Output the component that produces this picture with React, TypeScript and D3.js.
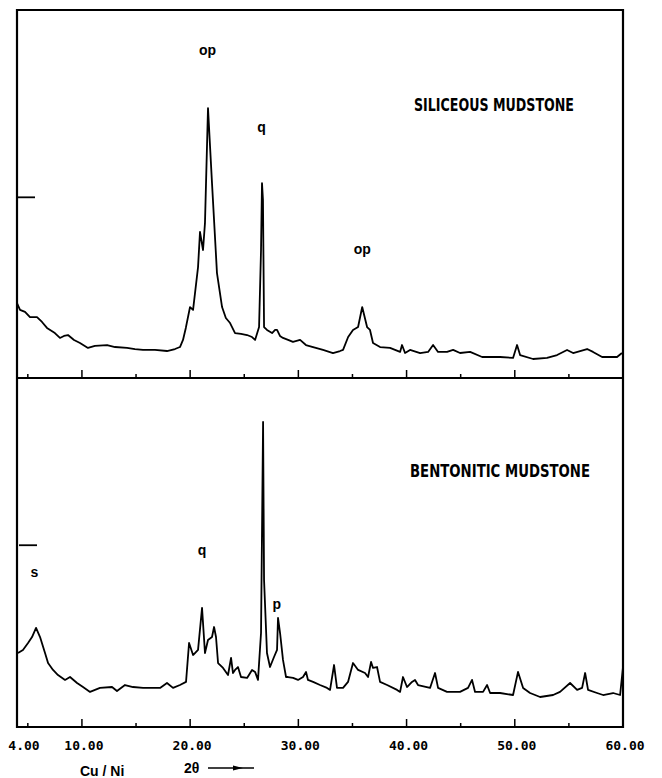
import React from "react";
import * as d3 from "d3";

// Siliceous mudstone (top trace): 2θ (deg) and intensity (arbitrary counts)
const siliceousTheta = [4.0, 4.28, 4.74, 5.2, 5.85, 6.31, 6.77, 7.5, 7.97, 8.34, 8.71, 9.27, 9.82, 10.56, 11.2, 12.32, 13.06, 14.17, 14.9, 15.64, 16.75, 17.86, 18.6, 19.06, 19.34, 19.6, 19.99, 20.27, 20.73, 20.91, 21.19, 21.37, 21.65, 22.02, 22.48, 22.95, 23.3, 23.69, 24.15, 24.7, 25.26, 25.72, 26.0, 26.37, 26.55, 26.64, 26.73, 26.83, 27.1, 27.57, 27.85, 28.03, 28.3, 28.58, 29.05, 29.5, 30.16, 30.7, 31.36, 32.28, 33.2, 33.85, 34.13, 34.6, 35.05, 35.52, 35.9, 36.35, 36.62, 36.9, 37.55, 38.47, 39.4, 39.58, 39.86, 40.32, 41.25, 41.99, 42.45, 42.91, 43.74, 44.3, 44.94, 45.87, 46.98, 48.64, 49.84, 50.21, 50.49, 51.69, 52.98, 53.91, 54.83, 55.39, 56.68, 57.23, 58.07, 59.45, 59.9];
const siliceousCounts = [407, 369, 358, 330, 330, 303, 270, 242, 215, 226, 231, 204, 187, 160, 171, 176, 165, 160, 154, 149, 149, 143, 154, 165, 204, 270, 385, 369, 605, 798, 699, 847, 1480, 1067, 572, 385, 325, 297, 242, 237, 231, 220, 204, 275, 699, 1067, 974, 275, 259, 242, 259, 259, 226, 215, 204, 193, 204, 176, 165, 149, 132, 143, 149, 220, 259, 275, 385, 275, 259, 187, 165, 160, 138, 176, 132, 149, 132, 138, 176, 138, 138, 149, 132, 138, 110, 110, 105, 176, 121, 99, 105, 121, 149, 132, 154, 138, 110, 110, 132];

// Bentonitic mudstone (bottom trace)
const bentoniticTheta = [4.09, 4.55, 5.02, 5.39, 5.76, 6.13, 6.59, 6.87, 7.33, 7.79, 8.44, 8.9, 9.55, 10.1, 10.75, 11.67, 12.78, 13.24, 13.98, 14.72, 15.65, 17.22, 17.86, 18.42, 19.06, 19.62, 19.9, 20.27, 20.73, 21.1, 21.37, 21.65, 22.02, 22.21, 22.39, 22.58, 23.04, 23.5, 23.78, 23.96, 24.15, 24.42, 24.7, 25.26, 25.72, 26.0, 26.27, 26.55, 26.74, 26.83, 27.1, 27.38, 27.75, 28.03, 28.12, 28.31, 28.58, 28.86, 29.05, 29.51, 29.97, 30.43, 30.71, 30.89, 31.36, 32.0, 32.65, 32.93, 33.3, 33.57, 34.13, 34.59, 35.05, 35.52, 36.16, 36.44, 36.72, 36.9, 37.27, 37.55, 38.2, 39.12, 39.4, 39.67, 40.04, 40.5, 40.78, 41.06, 42.17, 42.63, 42.91, 43.74, 44.94, 45.68, 46.05, 46.33, 47.07, 47.44, 47.72, 48.64, 49.84, 50.3, 50.77, 51.41, 52.34, 53.54, 54.18, 55.11, 55.76, 56.22, 56.5, 56.77, 57.6, 58.16, 59.08, 59.73, 60.0];
const bentoniticCounts = [407, 424, 462, 495, 545, 495, 407, 352, 314, 286, 259, 275, 242, 220, 193, 215, 220, 198, 231, 220, 215, 215, 242, 215, 231, 248, 462, 396, 424, 655, 407, 479, 495, 550, 495, 352, 325, 286, 380, 297, 314, 330, 275, 270, 314, 303, 259, 517, 1678, 809, 407, 330, 385, 424, 600, 517, 369, 275, 275, 270, 259, 275, 303, 259, 248, 231, 215, 204, 341, 215, 215, 248, 352, 314, 297, 275, 358, 325, 330, 248, 231, 204, 193, 275, 220, 248, 259, 231, 215, 297, 215, 193, 193, 215, 259, 193, 193, 231, 187, 187, 176, 303, 215, 187, 165, 176, 193, 242, 204, 215, 297, 204, 187, 176, 187, 176, 330];

const xTickValues = [5, 10, 15, 20, 25, 30, 35, 40, 45, 50, 55];
const xTickLabels = ["4.00", "10.00", "20.00", "30.00", "40.00", "50.00", "60.00"];
const xLabelValues = [4, 10, 20, 30, 40, 50, 60];
const scaleMarkValue = 1000;

const peakLabelsTop = [
  { text: "op", theta: 21.6, count: 1775 },
  { text: "q", theta: 26.6, count: 1350 },
  { text: "op", theta: 35.9, count: 675 },
];
const peakLabelsBottom = [
  { text: "s", theta: 5.6, count: 825 },
  { text: "q", theta: 21.1, count: 945 },
  { text: "p", theta: 28.0, count: 650 },
];

export default function App() {
  const W = 662;
  const H = 778;
  const left = 17;
  const right = 623;
  const topY = 10;
  const midY = 378;
  const botY = 727;

  const x = d3.scaleLinear().domain([4, 60]).range([left, right]);
  const yTop = d3.scaleLinear().domain([0, 2020]).range([midY - 1, topY]);
  const yBot = d3.scaleLinear().domain([0, 1920]).range([botY, midY]);

  const lineTop = d3
    .line<number>()
    .x((_, i) => x(siliceousTheta[i]))
    .y((d) => yTop(d));
  const lineBot = d3
    .line<number>()
    .x((_, i) => x(bentoniticTheta[i]))
    .y((d) => yBot(d));

  const plotFont = "'DejaVu Sans Mono', monospace";
  const labelFont = "'Liberation Sans', Arial, sans-serif";
  const titleFont = "'DejaVu Sans Condensed', 'DejaVu Sans', sans-serif";

  const ticks = (baseY: number) =>
    xTickValues.map((v) => (
      <line
        key={v}
        x1={x(v)}
        x2={x(v)}
        y1={baseY}
        y2={baseY - (v % 10 === 0 ? 8 : 4)}
        stroke="#000"
        strokeWidth={1.5}
      />
    ));

  return (
    <svg
      width={W}
      height={H}
      style={{ position: "absolute", left: 0, top: 0, background: "#fff" }}
    >
      <rect x={0} y={0} width={W} height={H} fill="#fff" />
      {/* frame */}
      <path
        d={`M${left},${botY} L${left},${topY} L${right},${topY} L${right},${botY} Z`}
        fill="none"
        stroke="#000"
        strokeWidth={2.2}
      />
      <line x1={left} x2={right} y1={midY} y2={midY} stroke="#000" strokeWidth={2.2} />
      {ticks(midY)}
      {ticks(botY)}
      {/* intensity scale marks */}
      <line x1={left} x2={left + 18} y1={yTop(scaleMarkValue) + 2} y2={yTop(scaleMarkValue) + 2} stroke="#000" strokeWidth={1.8} />
      <line x1={left + 2} x2={left + 20} y1={yBot(scaleMarkValue)} y2={yBot(scaleMarkValue)} stroke="#000" strokeWidth={1.8} />

      {/* traces */}
      <path d={lineTop(siliceousCounts) || ""} fill="none" stroke="#000" strokeWidth={1.8} strokeLinejoin="round" />
      <path d={lineBot(bentoniticCounts) || ""} fill="none" stroke="#000" strokeWidth={1.8} strokeLinejoin="round" />

      {/* peak labels */}
      {peakLabelsTop.map((p, i) => (
        <text key={"t" + i} x={x(p.theta)} y={yTop(p.count)} textAnchor="middle" fontFamily={labelFont} fontWeight="bold" fontSize={14}>
          {p.text}
        </text>
      ))}
      {peakLabelsBottom.map((p, i) => (
        <text key={"b" + i} x={x(p.theta)} y={yBot(p.count)} textAnchor="middle" fontFamily={labelFont} fontWeight="bold" fontSize={14}>
          {p.text}
        </text>
      ))}

      {/* titles */}
      <text x={414} y={111} fontFamily={titleFont} fontWeight="bold" fontSize={17} textLength={160} lengthAdjust="spacingAndGlyphs">
        SILICEOUS MUDSTONE
      </text>
      <text x={410} y={477} fontFamily={titleFont} fontWeight="bold" fontSize={17} textLength={180} lengthAdjust="spacingAndGlyphs">
        BENTONITIC MUDSTONE
      </text>

      {/* x tick labels */}
      {xLabelValues.map((v, i) => (
        <text
          key={v}
          x={x(v) + (v === 4 ? 7 : 2)}
          y={750}
          textAnchor="middle"
          fontFamily={plotFont}
          fontWeight="bold"
          fontSize={13}
        >
          {xTickLabels[i]}
        </text>
      ))}

      {/* axis captions */}
      <text x={80} y={776} fontFamily={labelFont} fontWeight="bold" fontSize={14}>
        Cu / Ni
      </text>
      <text x={184} y={773} fontFamily={labelFont} fontWeight="bold" fontSize={14}>
        2θ
      </text>
      <line x1={208} x2={254} y1={768} y2={768} stroke="#000" strokeWidth={1.6} />
      <path d="M233,765.5 L243,768 L233,770.5 Z" fill="#000" />
    </svg>
  );
}
